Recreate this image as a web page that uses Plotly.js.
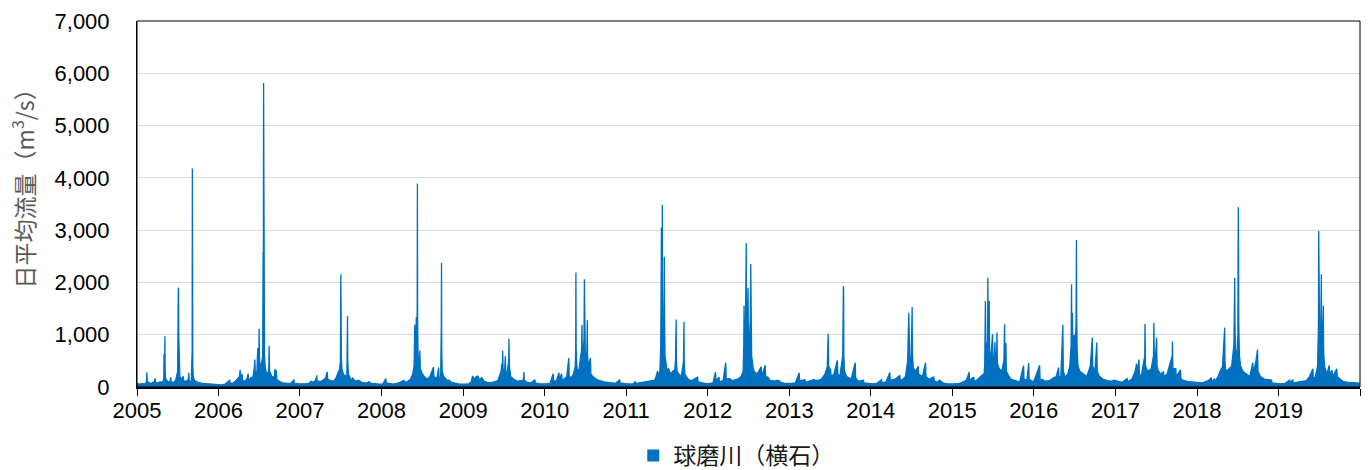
<!DOCTYPE html>
<html><head><meta charset="utf-8">
<script src="https://cdn.plot.ly/plotly-3.0.1.min.js"></script>
<style>html,body{margin:0;padding:0;background:#fff}#chart{width:1370px;height:470px}</style>
</head><body><div id="chart"></div>
<script>
const seriesName = "球磨川（横石）";
const yTitle = "日平均流量（m<sup>3</sup>/s）";

// Daily mean discharge (m3/s): [MM-DD, value]
const q2005 = [["01-01",70],["01-12",55],["01-25",65],["02-08",60],["02-13",120],["02-14",280],["02-16",110],["02-25",80],["03-08",70],["03-20",110],["03-23",165],["03-26",90],["04-05",75],["04-15",100],["04-25",85],["05-01",150],["05-02",630],["05-03",200],["05-05",300],["05-06",970],["05-07",350],["05-09",160],["05-18",110],["05-28",90],["06-01",185],["06-03",100],["06-15",90],["06-24",140],["07-02",300],["07-05",1880],["07-06",1900],["07-07",950],["07-09",400],["07-12",200],["07-18",150],["07-27",205],["07-29",120],["08-05",110],["08-18",130],["08-21",270],["08-23",120],["09-01",90],["09-05",700],["09-06",4180],["09-07",900],["09-08",400],["09-10",200],["09-15",130],["09-25",100],["10-08",80],["10-20",70],["11-05",65],["11-22",55],["12-08",50],["12-20",45]];
const q2006 = [["01-01",45],["01-15",40],["01-30",55],["02-10",90],["02-20",130],["02-23",80],["03-05",70],["03-18",110],["03-28",150],["04-05",200],["04-08",330],["04-10",160],["04-17",250],["04-19",130],["04-28",110],["05-08",150],["05-14",255],["05-16",130],["05-25",170],["06-05",200],["06-11",400],["06-13",525],["06-15",250],["06-22",300],["06-26",750],["06-28",400],["07-01",600],["07-02",1115],["07-04",500],["07-10",350],["07-18",600],["07-20",2580],["07-21",2300],["07-22",5815],["07-23",3985],["07-24",1200],["07-26",600],["07-30",350],["08-05",250],["08-14",300],["08-16",785],["08-18",300],["08-28",200],["09-08",200],["09-11",350],["09-13",180],["09-17",320],["09-19",150],["09-30",110],["10-15",80],["11-01",70],["11-20",65],["12-05",140],["12-07",70],["12-25",60]];
const q2007 = [["01-10",55],["01-25",60],["02-10",70],["02-20",110],["03-05",90],["03-15",160],["03-17",225],["03-19",120],["04-01",100],["04-15",130],["04-25",160],["05-03",290],["05-05",150],["05-18",120],["06-01",110],["06-12",180],["06-20",250],["06-28",350],["07-01",500],["07-02",900],["07-03",2155],["07-04",1640],["07-05",600],["07-08",350],["07-14",250],["07-22",200],["07-30",250],["08-02",1360],["08-03",500],["08-06",250],["08-18",130],["08-25",170],["09-05",110],["09-20",130],["10-05",90],["10-25",75],["11-06",100],["11-15",70],["12-05",60],["12-25",55]];
const q2008 = [["01-08",60],["01-20",160],["01-23",80],["02-10",60],["02-25",55],["03-10",70],["03-25",90],["04-10",130],["04-14",90],["04-28",110],["05-10",150],["05-20",250],["05-26",400],["05-29",1190],["05-31",600],["06-03",700],["06-05",1340],["06-07",700],["06-09",1500],["06-10",3890],["06-11",1300],["06-13",600],["06-17",450],["06-21",700],["06-23",350],["07-02",250],["07-15",180],["07-25",150],["08-05",200],["08-21",380],["08-23",200],["09-05",160],["09-13",370],["09-15",180],["09-22",160],["09-25",1160],["09-26",2370],["09-27",700],["09-29",300],["10-06",200],["10-20",130],["10-29",130],["11-10",90],["11-25",70],["12-10",60],["12-28",55]];
const q2009 = [["01-10",55],["01-25",60],["02-05",90],["02-12",210],["02-20",150],["03-01",200],["03-08",210],["03-15",140],["03-25",180],["04-05",110],["04-20",90],["05-05",80],["05-20",100],["06-05",120],["06-20",300],["06-23",450],["06-25",300],["06-27",700],["06-29",300],["07-06",350],["07-09",590],["07-11",250],["07-18",300],["07-24",500],["07-25",925],["07-27",400],["08-02",200],["08-15",150],["09-01",110],["09-28",130],["09-30",285],["10-02",130],["10-15",90],["11-01",80],["11-18",140],["11-20",80],["12-10",60],["12-28",55]];
const q2010 = [["01-10",60],["01-25",70],["02-08",255],["02-10",120],["02-22",110],["03-06",275],["03-08",150],["03-18",255],["03-20",140],["04-01",160],["04-10",200],["04-19",555],["04-21",200],["04-30",180],["05-10",250],["05-18",400],["05-20",700],["05-21",2190],["05-22",700],["05-26",350],["06-03",300],["06-10",550],["06-15",700],["06-17",1190],["06-19",500],["06-23",700],["06-26",900],["06-28",2060],["06-29",1000],["07-02",600],["07-06",500],["07-09",700],["07-11",1275],["07-12",600],["07-16",400],["07-25",555],["07-27",250],["08-05",200],["08-20",150],["09-05",120],["09-25",100],["10-10",90],["10-30",75],["11-15",70],["12-03",140],["12-05",80],["12-25",65]];
const q2011 = [["01-10",60],["01-30",55],["02-10",100],["02-15",70],["03-01",80],["03-20",90],["04-05",110],["04-20",120],["05-09",130],["05-15",200],["05-22",305],["05-25",200],["06-01",300],["06-05",800],["06-08",3050],["06-09",2200],["06-11",1500],["06-12",3485],["06-13",1800],["06-15",900],["06-18",700],["06-20",1300],["06-21",2490],["06-22",1370],["06-24",600],["06-28",400],["07-03",320],["07-10",350],["07-20",250],["08-02",320],["08-04",200],["08-10",500],["08-13",1290],["08-14",500],["08-17",300],["08-25",250],["09-05",200],["09-15",500],["09-17",1245],["09-18",500],["09-21",250],["10-05",150],["10-20",120],["11-17",190],["11-19",100],["12-05",80],["12-25",65]];
const q2012 = [["01-10",70],["01-25",80],["02-05",285],["02-07",120],["02-21",190],["02-23",100],["03-10",120],["03-22",465],["03-24",160],["04-09",160],["04-20",120],["05-01",130],["05-15",150],["05-30",200],["06-08",300],["06-11",800],["06-12",1560],["06-14",700],["06-18",1000],["06-21",1800],["06-22",2755],["06-23",1300],["06-26",900],["06-30",1900],["07-02",700],["07-06",900],["07-10",1300],["07-12",2350],["07-13",1150],["07-16",600],["07-22",385],["07-27",300],["08-10",250],["08-28",385],["08-30",200],["09-15",415],["09-17",200],["09-27",190],["10-05",130],["10-25",110],["11-12",130],["11-25",90],["12-10",70],["12-28",65]];
const q2013 = [["01-10",70],["01-28",80],["02-14",270],["02-16",120],["03-12",140],["03-14",90],["04-01",110],["04-20",140],["05-05",120],["05-25",150],["06-10",250],["06-20",400],["06-24",1020],["06-26",400],["07-05",320],["07-07",200],["07-20",250],["08-04",510],["08-06",250],["08-15",200],["08-28",600],["08-31",1930],["09-01",1880],["09-02",600],["09-05",300],["09-15",200],["10-05",150],["10-23",465],["10-25",180],["11-05",110],["11-29",130],["12-01",80],["12-20",65]];
const q2014 = [["01-10",60],["01-28",70],["02-18",140],["02-20",80],["03-10",100],["03-27",275],["03-29",130],["04-20",150],["05-11",225],["05-13",120],["05-25",150],["06-05",200],["06-15",500],["06-20",1420],["06-21",800],["06-25",400],["07-01",600],["07-04",1050],["07-05",1530],["07-06",700],["07-10",365],["07-20",300],["08-01",395],["08-03",250],["08-20",200],["09-03",465],["09-05",200],["09-20",150],["10-10",190],["10-12",120],["10-25",90],["11-05",130],["11-20",80],["12-10",60],["12-28",55]];
const q2015 = [["01-10",60],["01-30",70],["02-15",90],["03-05",130],["03-17",285],["03-19",130],["04-07",190],["04-09",100],["04-25",150],["05-19",245],["05-21",150],["05-26",400],["05-29",1645],["05-31",900],["06-04",600],["06-08",900],["06-09",2090],["06-11",800],["06-15",1645],["06-17",700],["06-22",500],["06-30",1015],["07-02",500],["07-08",600],["07-11",860],["07-13",450],["07-19",700],["07-20",1040],["07-22",450],["07-30",350],["08-10",300],["08-20",500],["08-23",1200],["08-25",450],["08-29",840],["08-31",300],["09-10",220],["09-20",150],["10-10",120],["10-30",100],["11-16",410],["11-18",150],["12-01",130],["12-09",460],["12-11",150],["12-28",100]];
const q2016 = [["01-05",150],["01-27",415],["01-29",150],["02-10",140],["02-20",110],["03-10",120],["04-03",190],["04-05",120],["04-21",370],["04-23",180],["05-01",200],["05-10",1190],["05-12",300],["05-20",190],["06-01",250],["06-10",400],["06-16",800],["06-18",1965],["06-19",900],["06-22",1415],["06-24",700],["06-30",1000],["07-03",700],["07-08",1200],["07-10",2810],["07-11",1400],["07-13",700],["07-17",400],["07-25",300],["08-10",250],["08-25",200],["09-10",400],["09-19",945],["09-21",400],["10-01",300],["10-09",850],["10-11",300],["10-20",210],["11-05",150],["11-25",120],["12-10",110],["12-26",130]];
const q2017 = [["01-10",110],["01-30",90],["02-22",160],["02-25",100],["03-15",150],["03-30",300],["04-05",445],["04-07",250],["04-16",525],["04-18",200],["04-28",250],["05-12",600],["05-13",1210],["05-15",400],["05-25",300],["06-10",350],["06-20",600],["06-22",1225],["06-23",700],["06-28",500],["07-04",945],["07-06",400],["07-10",330],["07-20",250],["08-04",290],["08-06",200],["08-20",250],["09-12",600],["09-13",875],["09-15",350],["09-28",350],["09-30",200],["10-19",330],["10-21",150],["11-05",120],["11-25",100],["12-15",90]];
const q2018 = [["01-13",85],["01-30",90],["02-20",120],["03-06",180],["03-08",100],["03-21",160],["03-23",100],["04-05",200],["04-21",370],["04-23",250],["05-05",1135],["05-06",500],["05-10",300],["05-25",350],["06-05",400],["06-15",800],["06-19",2090],["06-20",1230],["06-22",700],["06-28",600],["07-03",1000],["07-04",2600],["07-05",3440],["07-06",2620],["07-07",1200],["07-10",600],["07-15",400],["07-25",300],["08-10",250],["08-25",200],["09-08",465],["09-10",250],["09-22",500],["09-29",715],["10-01",300],["10-12",200],["10-30",150],["12-01",130],["12-03",80],["12-25",65]];
const q2019 = [["01-10",60],["01-30",70],["02-20",130],["02-22",80],["03-06",140],["03-08",80],["03-25",90],["04-20",100],["05-05",120],["05-20",200],["06-04",350],["06-06",150],["06-15",200],["06-25",400],["06-29",1200],["06-30",2985],["07-01",1500],["07-04",1000],["07-08",700],["07-12",2155],["07-13",1000],["07-16",800],["07-21",1560],["07-22",700],["07-26",400],["08-06",250],["08-16",415],["08-18",250],["08-29",320],["08-31",200],["09-19",350],["09-21",200],["10-05",150],["10-20",100],["11-10",90],["12-01",85],["12-20",80],["12-31",75]];

const years = [2005,2006,2007,2008,2009,2010,2011,2012,2013,2014,2015,2016,2017,2018,2019];
const yearData = [q2005,q2006,q2007,q2008,q2009,q2010,q2011,q2012,q2013,q2014,q2015,q2016,q2017,q2018,q2019];
const xTickDates = ["2005-01-01","2006-01-01","2007-01-01","2008-01-01","2009-01-01","2010-01-01","2011-01-01","2012-01-01","2013-01-01","2014-01-01","2015-01-01","2016-01-01","2017-01-01","2018-01-01","2019-01-01","2020-01-01"];
const xTickLabels = ["2005","2006","2007","2008","2009","2010","2011","2012","2013","2014","2015","2016","2017","2018","2019"," "];
const yTickVals = [0,1000,2000,3000,4000,5000,6000,7000];

const xs = [], ys = [];
years.forEach((yr, i) => {
  yearData[i].forEach(([md, v]) => { xs.push(yr + "-" + md); ys.push(v); });
});

const blue = "#0070C0";
const traces = [
  {type:"scatter", mode:"lines", x:xs, y:ys, fill:"tozeroy", fillcolor:blue,
   line:{color:blue, width:1.3}, showlegend:false, hoverinfo:"x+y"},
  {type:"bar", x:[null], y:[null], name:seriesName, marker:{color:blue}, showlegend:true}
];

const layout = {
  width:1370, height:470,
  margin:{l:137, r:10, t:21, b:83, autoexpand:false},
  paper_bgcolor:"#fff", plot_bgcolor:"#fff",
  font:{family:"Liberation Sans, Arial, sans-serif", color:"#000"},
  showlegend:true,
  legend:{orientation:"h", x:0.490, xanchor:"center", y:-0.187, yanchor:"middle",
          font:{family:"Noto Sans CJK JP", size:23, color:"#1a1a1a"}},
  xaxis:{type:"date", range:["2005-01-01","2020-01-01"], tickmode:"array",
         tickvals:xTickDates, ticktext:xTickLabels, ticks:"outside", ticklen:7,
         tickcolor:"#000", tickwidth:1, showline:true, linecolor:"#000", linewidth:2,
         ticklabelstandoff:-4,
         showgrid:false, zeroline:false, tickfont:{size:22, color:"#000"}, automargin:false},
  yaxis:{range:[0,7000], tickmode:"array", tickvals:yTickVals, tickformat:",",
         showgrid:true, gridcolor:"#d9d9d9", gridwidth:1, showline:true,
         linecolor:"#000", linewidth:1, ticks:"", ticklabelstandoff:22, zeroline:false,
         tickfont:{size:22, color:"#000"}, automargin:false},
  annotations:[{text:yTitle, xref:"paper", yref:"paper", x:-0.093, y:0.557,
                xanchor:"center", yanchor:"middle", textangle:-90, showarrow:false,
                font:{family:"Noto Sans CJK JP", size:23, color:"#595959"}}],
  shapes:[{type:"rect", xref:"paper", yref:"paper", x0:0, x1:1, y0:0, y1:1,
           line:{color:"#000", width:1}, layer:"above"}]
};

Plotly.newPlot("chart", traces, layout, {displayModeBar:false, staticPlot:true});
</script>
</body></html>
